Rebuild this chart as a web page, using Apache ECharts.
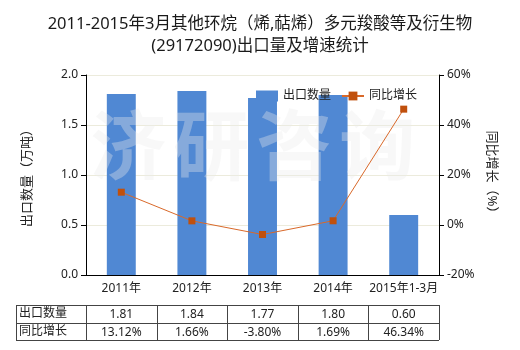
<!DOCTYPE html>
<html>
<head>
<meta charset="utf-8">
<script src="https://cdn.jsdelivr.net/npm/echarts@6/dist/echarts.min.js"></script>
<style>
  html, body { margin: 0; padding: 0; background: #fff; }
  #chart { width: 520px; height: 350px; }
</style>
</head>
<body>
<div id="chart"></div>
<script>
// Categories and series values
const categories = ['2011年', '2012年', '2013年', '2014年', '2015年1-3月'];
const exportQty = [1.81, 1.84, 1.77, 1.80, 0.60];          // 出口数量（万吨）
const yoyGrowth = [13.12, 1.66, -3.80, 1.69, 46.34];       // 同比增长（%）
const tableRowNames = ['出口数量', '同比增长'];
const watermarkChars = ['济', '研', '咨', '询'];

const FONT = '"Noto Sans", "Noto Sans CJK SC", sans-serif';
const GRID = { left: 86, right: 81, top: 75, bottom: 75 };

const chart = echarts.init(document.getElementById('chart'), null, { renderer: 'canvas' });

const option = {
  backgroundColor: '#ffffff',
  animation: false,
  textStyle: { fontFamily: FONT },
  title: {
    text: '2011-2015年3月其他环烷（烯,萜烯）多元羧酸等及衍生物\n(29172090)出口量及增速统计',
    left: 'center',
    top: 8,
    textStyle: { fontSize: 16.5, fontWeight: 'normal', color: '#1a1a1a', lineHeight: 22, fontFamily: FONT }
  },
  legend: {
    left: 251,
    top: 85,
    itemWidth: 22,
    itemHeight: 11,
    itemGap: 10,
    textStyle: { fontSize: 12, color: '#222', fontFamily: FONT },
    data: [
      { name: '出口数量', icon: 'rect' },
      { name: '同比增长' }
    ]
  },
  grid: { left: GRID.left, right: GRID.right, top: GRID.top, bottom: GRID.bottom },
  xAxis: {
    type: 'category',
    data: categories,
    axisLine: { lineStyle: { color: '#000', width: 1 } },
    axisTick: { alignWithLabel: true, length: 5, lineStyle: { color: '#000' } },
    axisLabel: { interval: 0, color: '#222', fontSize: 12, margin: 8, fontFamily: FONT },
    splitLine: { show: false }
  },
  yAxis: [
    {
      type: 'value',
      min: 0, max: 2, interval: 0.5,
      name: '出口数量（万吨）',
      nameLocation: 'middle',
      nameGap: 52,
      nameRotate: 90,
      nameTextStyle: { fontSize: 13, color: '#222', fontFamily: FONT },
      axisLine: { show: true, lineStyle: { color: '#000' } },
      axisTick: { show: true, length: 5, lineStyle: { color: '#000' } },
      axisLabel: { color: '#222', fontSize: 12, formatter: v => v.toFixed(1), fontFamily: FONT },
      splitLine: { show: true, lineStyle: { color: '#ecebdc', width: 1 } }
    },
    {
      type: 'value',
      min: -20, max: 60, interval: 20,
      name: '同比增长（%）',
      nameLocation: 'middle',
      nameGap: 44,
      nameRotate: -90,
      nameTextStyle: { fontSize: 13, color: '#222', fontFamily: FONT },
      axisLine: { show: true, lineStyle: { color: '#000' } },
      axisTick: { show: true, length: 5, lineStyle: { color: '#000' } },
      axisLabel: { color: '#222', fontSize: 12, formatter: '{value}%', fontFamily: FONT },
      splitLine: { show: false }
    }
  ],
  series: [
    {
      name: '出口数量',
      type: 'bar',
      yAxisIndex: 0,
      data: exportQty,
      barWidth: '41%',
      itemStyle: { color: '#5088d3' },
      z: 2
    },
    {
      name: '同比增长',
      type: 'line',
      yAxisIndex: 1,
      data: yoyGrowth,
      symbol: 'rect',
      symbolSize: 7,
      lineStyle: { color: '#d9692a', width: 1 },
      itemStyle: { color: '#c0500d' },
      z: 4
    }
  ]
};

chart.setOption(option);

// Watermark and data table, laid out from the axis scale
function buildGraphics() {
  const elements = [];
  const center = i => chart.convertToPixel({ xAxisIndex: 0 }, categories[i]);
  const half = (center(1) - center(0)) / 2;
  const left = center(0) - half;
  const right = center(categories.length - 1) + half;
  const yTop = chart.convertToPixel({ yAxisIndex: 0 }, 2);

  // watermark
  const wmSpan = right - left;
  watermarkChars.forEach((ch, i) => {
    elements.push({
      type: 'text',
      z: 3,
      silent: true,
      style: {
        text: ch,
        x: left + wmSpan * (0.12 + i * 0.235),
        y: yTop + 70,
        align: 'center',
        verticalAlign: 'middle',
        font: 'bold 76px "Noto Sans CJK SC", sans-serif',
        fill: 'rgba(235,235,235,0.35)'
      }
    });
  });

  // table
  const tableLeft = 16;
  const rowTop = 305;
  const rowH = 17.5;
  const lineColor = '#444';
  const nRows = tableRowNames.length;
  const bottom = rowTop + rowH * nRows;
  for (let r = 0; r <= nRows; r++) {
    const y = Math.round(rowTop + r * rowH) + 0.5;
    elements.push({ type: 'line', shape: { x1: tableLeft, y1: y, x2: right, y2: y },
      style: { stroke: lineColor, lineWidth: 1 } });
  }
  const vx = [tableLeft, left];
  for (let i = 0; i < categories.length; i++) vx.push(center(i) + half);
  vx.forEach(x => {
    const xx = Math.round(x) + 0.5;
    elements.push({ type: 'line', shape: { x1: xx, y1: rowTop, x2: xx, y2: bottom },
      style: { stroke: lineColor, lineWidth: 1 } });
  });
  tableRowNames.forEach((name, r) => {
    elements.push({ type: 'text', style: {
      text: name, x: tableLeft + 3, y: rowTop + r * rowH + rowH / 2,
      verticalAlign: 'middle', align: 'left',
      font: '12px ' + FONT, fill: '#222' } });
  });
  const rows = [exportQty.map(v => v.toFixed(2)), yoyGrowth.map(v => v.toFixed(2) + '%')];
  rows.forEach((vals, r) => {
    vals.forEach((t, i) => {
      elements.push({ type: 'text', style: {
        text: t, x: center(i), y: rowTop + r * rowH + rowH / 2 + 1,
        verticalAlign: 'middle', align: 'center',
        font: '12px ' + FONT, fill: '#222' } });
    });
  });
  chart.setOption({ graphic: { elements } });
}
buildGraphics();
</script>
</body>
</html>
